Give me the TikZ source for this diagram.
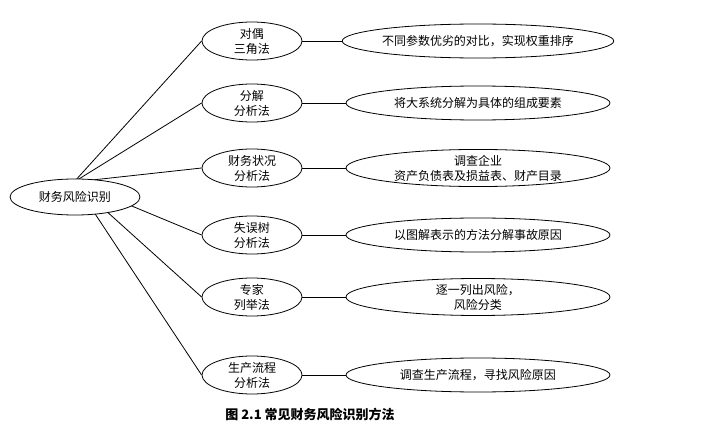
\documentclass[tikz,border=0pt]{standalone}
\usepackage{fontspec}
\setmainfont{Noto Sans CJK SC}
\usetikzlibrary{shapes.geometric}
\tikzset{
  oval/.style={ellipse, draw, fill=white, inner sep=0pt, align=center, font=\fontsize{6}{7.5}\selectfont},
  root/.style={oval, minimum width=65pt, minimum height=18pt},
  way/.style={oval, minimum width=50pt, minimum height=19pt},
  aim/.style={oval, minimum width=132pt, minimum height=17pt},
}
\begin{document}
\begin{tikzpicture}[x=0.5pt,y=-0.5pt]
    \useasboundingbox (0,0) rectangle (725,423);

    \node[way] (M1) at (252,41) {对偶\\三角法};
    \node[way] (M2) at (252,103) {分解\\分析法};
    \node[way] (M3) at (252,168) {财务状况\\分析法};
    \node[way] (M4) at (252,235) {失误树\\分析法};
    \node[way] (M5) at (252,297) {专家\\列举法};
    \node[way] (M6) at (252,375) {生产流程\\分析法};

    \node[aim] (A1) at (478,41) {不同参数优劣的对比，实现权重排序};
    \node[aim] (A2) at (478,103) {将大系统分解为具体的组成要素};
    \node[aim] (A3) at (478,168) {调查企业\\资产负债表及损益表、财产目录};
    \node[aim] (A4) at (478,235) {以图解表示的方法分解事故原因};
    \node[aim] (A5) at (478,297) {逐一列出风险，\\风险分类};
    \node[aim] (A6) at (478,375) {调查生产流程，寻找风险原因};

    \coordinate (J) at (74,182);
    \foreach \i in {1,...,6} {
        \draw (J) -- (M\i.west);
        \draw (M\i.east) -- (A\i.west);
    }
    % root last, so it covers the line ends
    \node[root] (R) at (75,197) {财务风险识别};

    \node[font=\fontsize{6.5}{8}\selectfont\bfseries] (cap) at (310,414) {图 2.1 常见财务风险识别方法};
\end{tikzpicture}
\end{document}
